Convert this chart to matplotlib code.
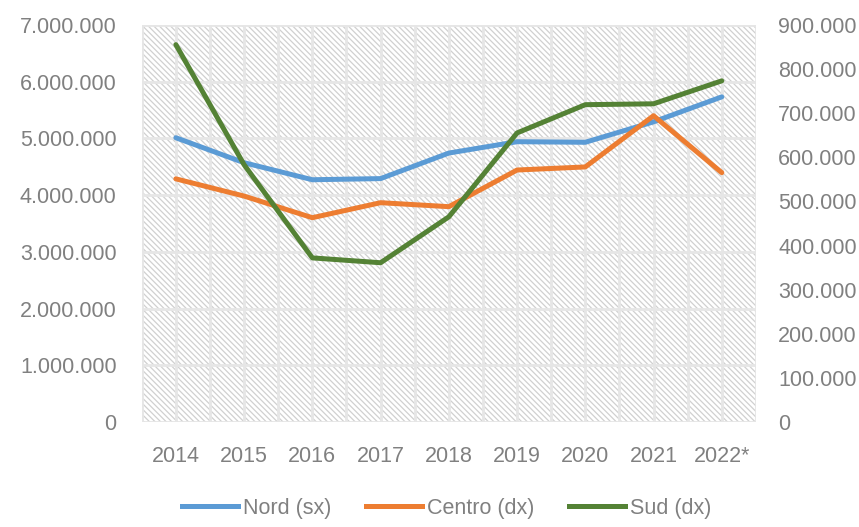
import matplotlib
matplotlib.use('Agg')
import matplotlib.pyplot as plt
from matplotlib.patches import Rectangle
from matplotlib.lines import Line2D
from matplotlib.ticker import FuncFormatter, MultipleLocator

# dati
anni = ['2014', '2015', '2016', '2017', '2018', '2019', '2020', '2021', '2022*']
nord = [5010000, 4570000, 4270000, 4290000, 4740000, 4940000, 4930000, 5290000, 5730000]
centro = [551000, 512000, 463000, 497000, 488000, 571000, 578000, 694000, 565000]
sud = [855000, 583000, 372000, 361000, 465000, 655000, 719000, 721000, 773000]

plt.rcParams['font.family'] = ['Liberation Sans', 'DejaVu Sans']
plt.rcParams['hatch.linewidth'] = 0.9

grigio = '#808080'
fs = 15.5

fig = plt.figure(figsize=(8.59, 5.27), dpi=100)
ax = fig.add_axes([0.165, 0.199, 0.715, 0.754])
ax2 = ax.twinx()

x = list(range(len(anni)))

# sfondo tratteggiato
ax.add_patch(Rectangle((0, 0), 1, 1, transform=ax.transAxes, facecolor='white',
                       edgecolor='#d0d0d0', hatch='\\' * 6, linewidth=0, zorder=0))

ax.plot(x, nord, color='#5b9bd5', lw=3.6, solid_capstyle='round', zorder=3)
ax2.plot(x, centro, color='#ed7d31', lw=3.6, solid_capstyle='round', zorder=3)
ax2.plot(x, sud, color='#548235', lw=3.6, solid_capstyle='round', zorder=3)

ax.set_xlim(-0.5, 8.5)
ax.set_ylim(0, 7000000)
ax2.set_ylim(0, 900000)
ax.set_xticks(x)
ax.set_xticklabels(anni)
ax.xaxis.set_minor_locator(MultipleLocator(0.5))
ax.yaxis.set_major_locator(MultipleLocator(1000000))
ax2.yaxis.set_major_locator(MultipleLocator(100000))

fmt = FuncFormatter(lambda v, p: '{:,.0f}'.format(v).replace(',', '.'))
ax.yaxis.set_major_formatter(fmt)
ax2.yaxis.set_major_formatter(fmt)

ax.grid(True, which='both', axis='x', color='#e6e6e6', lw=2.0, zorder=1)
ax.grid(True, which='major', axis='y', color='#e6e6e6', lw=2.0, zorder=1)
ax.set_axisbelow(False)

for a in (ax, ax2):
    for s in a.spines.values():
        s.set_visible(False)
    a.tick_params(length=0, which='both', labelsize=fs, labelcolor=grigio)
ax.tick_params(axis='y', pad=18)
ax2.tick_params(axis='y', pad=16)
ax.tick_params(axis='x', pad=17)

# la griglia deve stare sopra il tratteggio ma sotto le linee
ax2.set_zorder(ax.get_zorder() + 1)
ax2.patch.set_visible(False)

maniglie = [Line2D([], [], color='#5b9bd5', lw=3.6),
            Line2D([], [], color='#ed7d31', lw=3.6),
            Line2D([], [], color='#548235', lw=3.6)]
leg = fig.legend(maniglie, ['Nord (sx)', 'Centro (dx)', 'Sud (dx)'], loc='center',
                 bbox_to_anchor=(0.52, 0.036), ncol=3, frameon=False, fontsize=fs,
                 handlelength=2.6, handletextpad=0.25, columnspacing=1.6)
for t in leg.get_texts():
    t.set_color(grigio)

fig.savefig('out.png', dpi=100)
